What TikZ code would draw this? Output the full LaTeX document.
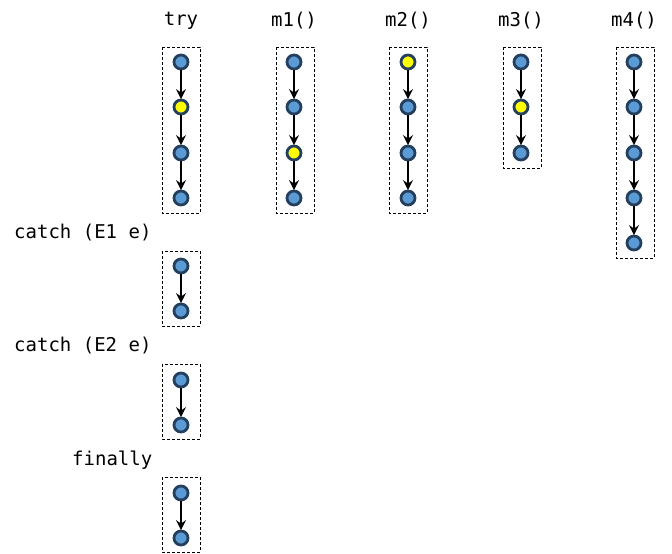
\documentclass[tikz,border=0pt]{standalone}
\usepackage{fontspec}
\setmonofont{DejaVu Sans Mono}
\usetikzlibrary{arrows.meta}
\definecolor{nodeblue}{HTML}{5B9BD5}
\definecolor{nodeedge}{HTML}{24405E}
\definecolor{nodeyellow}{HTML}{FFFF00}
\begin{document}
\begin{tikzpicture}[x=1pt,y=-1pt,
  pt/.style={circle,draw=nodeedge,line width=2.8pt,fill=nodeblue,minimum size=14pt,inner sep=0pt},
  ypt/.style={pt,fill=nodeyellow},
  edge/.style={-{Stealth[length=10pt,width=10pt,inset=3.5pt]},line width=2.2pt,black,shorten >=-0.5pt},
  frame/.style={draw,line width=0.9pt,dash pattern=on 3pt off 2pt},
  lbl/.style={font=\ttfamily\fontsize{19}{22}\selectfont,inner sep=0pt}]
\useasboundingbox (0,0) rectangle (672,554);
% headers
\node[lbl] (htry) at (181,21) {try};
\node[lbl] (hm1) at (294,21) {m1()};
\node[lbl] (hm2) at (408,21) {m2()};
\node[lbl] (hm3) at (521,21) {m3()};
\node[lbl] (hm4) at (634,21) {m4()};
\node[lbl,anchor=west] (hc1) at (14,233) {catch (E1 e)};
\node[lbl,anchor=west] (hc2) at (14,346) {catch (E2 e)};
\node[lbl,anchor=west] (hf) at (72,460) {finally};
% frames
\draw[frame] (162,47) rectangle (200,213);
\draw[frame] (276,47) rectangle (314,213);
\draw[frame] (389,47) rectangle (427,213);
\draw[frame] (503,47) rectangle (541,168);
\draw[frame] (616,47) rectangle (654,258);
\draw[frame] (162,251) rectangle (200,326);
\draw[frame] (162,364) rectangle (200,439);
\draw[frame] (162,477) rectangle (200,552);
% try
\node[pt] (t1) at (181,62) {};
\node[ypt] (t2) at (181,107) {};
\node[pt] (t3) at (181,153) {};
\node[pt] (t4) at (181,198) {};
\draw[edge] (t1) -- (t2); \draw[edge] (t2) -- (t3); \draw[edge] (t3) -- (t4);
% m1
\node[pt] (a1) at (294,62) {};
\node[pt] (a2) at (294,107) {};
\node[ypt] (a3) at (294,153) {};
\node[pt] (a4) at (294,198) {};
\draw[edge] (a1) -- (a2); \draw[edge] (a2) -- (a3); \draw[edge] (a3) -- (a4);
% m2
\node[ypt] (b1) at (408,62) {};
\node[pt] (b2) at (408,107) {};
\node[pt] (b3) at (408,153) {};
\node[pt] (b4) at (408,198) {};
\draw[edge] (b1) -- (b2); \draw[edge] (b2) -- (b3); \draw[edge] (b3) -- (b4);
% m3
\node[pt] (c1) at (521,62) {};
\node[ypt] (c2) at (521,107) {};
\node[pt] (c3) at (521,153) {};
\draw[edge] (c1) -- (c2); \draw[edge] (c2) -- (c3);
% m4
\node[pt] (d1) at (634,62) {};
\node[pt] (d2) at (634,107) {};
\node[pt] (d3) at (634,153) {};
\node[pt] (d4) at (634,198) {};
\node[pt] (d5) at (634,243) {};
\draw[edge] (d1) -- (d2); \draw[edge] (d2) -- (d3); \draw[edge] (d3) -- (d4); \draw[edge] (d4) -- (d5);
% catch 1
\node[pt] (e1) at (181,266) {};
\node[pt] (e2) at (181,311) {};
\draw[edge] (e1) -- (e2);
% catch 2
\node[pt] (f1) at (181,380) {};
\node[pt] (f2) at (181,425) {};
\draw[edge] (f1) -- (f2);
% finally
\node[pt] (g1) at (181,493) {};
\node[pt] (g2) at (181,538) {};
\draw[edge] (g1) -- (g2);
\end{tikzpicture}
\end{document}
